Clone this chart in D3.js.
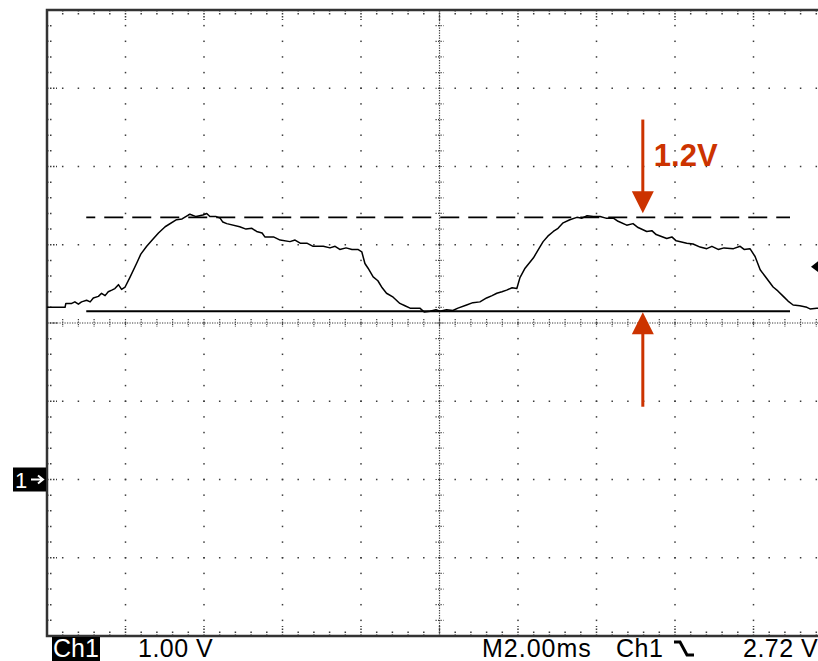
<!DOCTYPE html>
<html>
<head>
<meta charset="utf-8">
<script src="https://cdn.jsdelivr.net/npm/d3@7"></script>
<style>
  body { margin: 0; background: #fff; }
  svg { display: block; }
</style>
</head>
<body>
<div id="scope-container"></div>
<script>
// Ch1 trace: time in ms (trigger at 0), level in volts
const traceTime = [
  -10.0, -9.54, -9.52, -9.37, -9.29, -9.2, -9.12, -8.99, -8.9, -8.82, -8.69, -8.61, -8.52, -8.44,
  -8.35, -8.27, -8.18, -8.1, -8.01, -7.89, -7.71, -7.61, -7.46, -7.32, -7.16, -6.99, -6.7, -6.56,
  -6.4, -6.36, -6.2, -6.03, -5.93, -5.85, -5.69, -5.59, -5.52, -5.42, -5.09, -4.93, -4.78, -4.66,
  -4.52, -4.45, -4.23, -4.06, -3.81, -3.68, -3.55, -3.38, -3.22, -2.96, -2.79, -2.66, -2.54, -2.38,
  -2.23, -2.08, -1.98, -1.9, -1.82, -1.69, -1.57, -1.46, -1.35, -1.18, -1.01, -0.88, -0.75, -0.5,
  -0.39, -0.24, -0.09, 0.01, 0.18, 0.34, 0.47, 0.69, 0.85, 1.03, 1.2, 1.34, 1.46, 1.59, 1.71, 1.85,
  1.97, 2.05, 2.18, 2.39, 2.51, 2.64, 2.76, 2.9, 3.02, 3.15, 3.32, 3.5, 3.63, 3.76, 3.92, 4.09, 4.24,
  4.43, 4.55, 4.77, 4.93, 5.06, 5.28, 5.41, 5.52, 5.79, 5.92, 6.03, 6.3, 6.46, 6.64, 6.81, 6.94, 7.1,
  7.25, 7.49, 7.66, 7.76, 7.91, 8.04, 8.17, 8.29, 8.5, 8.62, 8.76, 8.88, 9.01, 9.18, 9.36, 9.44, 9.61,
  9.82, 10.0
];
const traceVolts = [
  2.2, 2.2, 2.25, 2.25, 2.27, 2.24, 2.27, 2.29, 2.27, 2.32, 2.34, 2.38, 2.35, 2.4,
  2.42, 2.44, 2.49, 2.43, 2.46, 2.58, 2.77, 2.88, 2.98, 3.06, 3.15, 3.23, 3.32, 3.33,
  3.38, 3.39, 3.36, 3.38, 3.4, 3.36, 3.36, 3.34, 3.29, 3.27, 3.23, 3.2, 3.21, 3.17,
  3.15, 3.1, 3.1, 3.06, 3.04, 3.06, 3.02, 3.02, 2.98, 2.98, 2.96, 2.98, 2.94, 2.96,
  2.94, 2.94, 2.91, 2.76, 2.7, 2.59, 2.54, 2.45, 2.38, 2.33, 2.25, 2.22, 2.19, 2.19,
  2.14, 2.15, 2.17, 2.15, 2.17, 2.16, 2.19, 2.23, 2.26, 2.27, 2.32, 2.35, 2.38, 2.4, 2.42, 2.45,
  2.44, 2.58, 2.7, 2.83, 2.93, 3.04, 3.11, 3.17, 3.21, 3.28, 3.32, 3.35, 3.34, 3.37, 3.36, 3.36, 3.34,
  3.34, 3.3, 3.25, 3.27, 3.22, 3.17, 3.18, 3.13, 3.08, 3.1, 3.05, 3.02, 3.01, 2.97, 2.95, 2.98, 2.94,
  2.96, 2.95, 2.98, 2.94, 2.95, 2.85, 2.68, 2.6, 2.46, 2.41, 2.34, 2.28, 2.23, 2.22, 2.2, 2.18, 2.19,
  2.18, 2.19
];

// two voltage cursors and the trigger level, volts
const cursorVolts = [3.35, 2.15];
const cursorTimeSpan = [-9.0, 8.93];
const triggerLevel = 2.72;
const groundLevel = 0;

// hand-drawn annotation (time ms, volts)
const deltaLabel = "1.2V";
const arrowTime = 5.18;
const arrowTails = [4.6, 0.93];

const statusLabels = ["Ch1", "1.00 V", "M2.00ms", "Ch1", "2.72 V"];

const width = 818;
const height = 661;
const plot = { left: 47, top: 10, right: 832, bottom: 636 };
const red = "#cc3300";
const gridColor = "#3a3a3a";
const font = "'Liberation Sans', Arial, 'DejaVu Sans', sans-serif";

const svg = d3
  .select("#scope-container")
  .append("svg")
  .attr("width", width)
  .attr("height", height)
  .style("background", "#fff");

// 10 divisions of 2 ms, 8 divisions of 1 V
const xScale = d3.scaleLinear().domain([-10, 10]).range([plot.left, plot.right]);
const yScale = d3.scaleLinear().domain([-2, 6]).range([plot.bottom, plot.top]);

const minorTimes = d3.range(0, 51).map((i) => -10 + i * 0.4);
const minorVolts = d3.range(0, 41).map((i) => -2 + i * 0.2);
const majorTimes = d3.range(-8, 9, 2).filter((t) => t !== 0);
const majorVolts = d3.range(-1, 6, 1).filter((v) => v !== 2);
const isMajor = (v, step) => Math.abs(v / step - Math.round(v / step)) < 1e-6;

const gGrid = svg.append("g").attr("fill", gridColor);

// dotted graticule lines
majorTimes.forEach((t) => {
  minorVolts.slice(1, -1).forEach((v) => {
    gGrid.append("rect")
      .attr("x", xScale(t) - 0.75).attr("y", yScale(v) - 0.75)
      .attr("width", 1.5).attr("height", 1.5);
  });
});
majorVolts.forEach((v) => {
  minorTimes.slice(1, -1).forEach((t) => {
    gGrid.append("rect")
      .attr("x", xScale(t) - 0.75).attr("y", yScale(v) - 0.75)
      .attr("width", 1.5).attr("height", 1.5);
  });
});

// centre axes: dense dots with small cross ticks
const gAxes = svg.append("g")
  .attr("stroke", gridColor)
  .attr("stroke-width", 1.2)
  .attr("stroke-dasharray", "1.2,1.3");

gAxes.append("line")
  .attr("x1", xScale(0)).attr("x2", xScale(0))
  .attr("y1", plot.top).attr("y2", plot.bottom);
gAxes.append("line")
  .attr("x1", plot.left).attr("x2", plot.right)
  .attr("y1", yScale(2)).attr("y2", yScale(2));

minorVolts.slice(1, -1).forEach((v) => {
  gAxes.append("line")
    .attr("x1", xScale(0) - 4).attr("x2", xScale(0) + 4)
    .attr("y1", yScale(v)).attr("y2", yScale(v));
});
minorTimes.slice(1, -1).forEach((t) => {
  gAxes.append("line")
    .attr("x1", xScale(t)).attr("x2", xScale(t))
    .attr("y1", yScale(2) - 4).attr("y2", yScale(2) + 4);
});

// edge ticks
const gEdge = svg.append("g")
  .attr("stroke", gridColor)
  .attr("stroke-width", 1.5)
  .attr("stroke-dasharray", "1.5,1.5");

minorTimes.slice(1, -1).forEach((t) => {
  const len = isMajor(t, 2) ? 10 : 5;
  gEdge.append("line")
    .attr("x1", xScale(t)).attr("x2", xScale(t))
    .attr("y1", plot.top).attr("y2", plot.top + len);
  gEdge.append("line")
    .attr("x1", xScale(t)).attr("x2", xScale(t))
    .attr("y1", plot.bottom).attr("y2", plot.bottom - len);
});
minorVolts.slice(1, -1).forEach((v) => {
  const len = isMajor(v, 1) ? 10 : 5;
  gEdge.append("line")
    .attr("x1", plot.left).attr("x2", plot.left + len)
    .attr("y1", yScale(v)).attr("y2", yScale(v));
});

// screen border
svg.append("path")
  .attr("d", `M${plot.right},${plot.top}H${plot.left}V${plot.bottom}H${plot.right}`)
  .attr("fill", "none")
  .attr("stroke", "#333")
  .attr("stroke-width", 2.5);

// cursors
const cursorLine = svg.append("g").attr("stroke", "#000").attr("stroke-width", 1.8);
cursorLine.append("line")
  .attr("x1", xScale(cursorTimeSpan[0])).attr("x2", xScale(cursorTimeSpan[1]))
  .attr("y1", yScale(cursorVolts[0])).attr("y2", yScale(cursorVolts[0]))
  .attr("stroke-dasharray", "19,9")
  .attr("stroke-dashoffset", 10);
cursorLine.append("line")
  .attr("x1", xScale(cursorTimeSpan[0])).attr("x2", xScale(cursorTimeSpan[1]))
  .attr("y1", yScale(cursorVolts[1])).attr("y2", yScale(cursorVolts[1]));

// waveform
svg.append("clipPath").attr("id", "screen")
  .append("rect")
  .attr("x", plot.left).attr("y", plot.top)
  .attr("width", plot.right - plot.left).attr("height", plot.bottom - plot.top);

const line = d3.line()
  .x((d) => xScale(d[0]))
  .y((d) => yScale(d[1]));

svg.append("path")
  .datum(d3.zip(traceTime, traceVolts))
  .attr("clip-path", "url(#screen)")
  .attr("d", line)
  .attr("fill", "none")
  .attr("stroke", "#000")
  .attr("stroke-width", 1.5)
  .attr("stroke-linejoin", "round");

// trigger level marker on the right edge
const ty = yScale(triggerLevel);
svg.append("path")
  .attr("d", `M811,${ty}L820,${ty - 7}L829,${ty}L820,${ty + 7}Z`)
  .attr("fill", "#000");

// ground marker "1" with its pointer arrow
const gy = yScale(groundLevel);
svg.append("rect")
  .attr("x", 13).attr("y", gy - 12)
  .attr("width", 33).attr("height", 24)
  .attr("fill", "#000");
svg.append("text")
  .attr("x", 15).attr("y", gy + 8)
  .attr("fill", "#fff")
  .style("font-family", font)
  .style("font-size", "22px")
  .text("1");
svg.append("path")
  .attr("d", `M31,${gy}H42M38,${gy - 4}L43,${gy}L38,${gy + 4}`)
  .attr("fill", "none")
  .attr("stroke", "#fff")
  .attr("stroke-width", 2);

// red delta annotation
const ax = xScale(arrowTime);
const gArrow = svg.append("g").attr("fill", red).attr("stroke", red);
const topTip = yScale(cursorVolts[0]) - 4;
const botTip = yScale(cursorVolts[1]) + 1;
gArrow.append("line")
  .attr("x1", ax).attr("x2", ax)
  .attr("y1", yScale(arrowTails[0])).attr("y2", topTip - 18)
  .attr("stroke-width", 3);
gArrow.append("path")
  .attr("stroke", "none")
  .attr("d", `M${ax - 11},${topTip - 22}L${ax + 11},${topTip - 22}L${ax},${topTip}Z`);
gArrow.append("line")
  .attr("x1", ax).attr("x2", ax)
  .attr("y1", yScale(arrowTails[1])).attr("y2", botTip + 18)
  .attr("stroke-width", 3);
gArrow.append("path")
  .attr("stroke", "none")
  .attr("d", `M${ax - 11},${botTip + 22}L${ax + 11},${botTip + 22}L${ax},${botTip}Z`);

svg.append("text")
  .attr("x", ax + 11).attr("y", 166)
  .attr("fill", red)
  .style("font-family", font)
  .style("font-weight", "bold")
  .style("font-size", "31px")
  .text(deltaLabel);

// status line under the screen
const baseY = 657;
svg.append("rect")
  .attr("x", 52).attr("y", 637)
  .attr("width", 48).attr("height", 24)
  .attr("fill", "#000");

const statusX = [53, 138, 482, 616, 743];
svg.append("g")
  .style("font-family", font)
  .style("font-size", "25px")
  .selectAll("text")
  .data(statusLabels)
  .join("text")
  .attr("x", (d, i) => statusX[i])
  .attr("y", baseY)
  .attr("fill", (d, i) => (i === 0 ? "#fff" : "#000"))
  .attr("letter-spacing", (d, i) => (i === 2 ? "1px" : i === 0 ? "0" : "0.5px"))
  .text((d) => d);

// falling-edge slope symbol
svg.append("path")
  .attr("d", "M674,642H680L687,655H694")
  .attr("fill", "none")
  .attr("stroke", "#000")
  .attr("stroke-width", 3);
</script>
</body>
</html>
